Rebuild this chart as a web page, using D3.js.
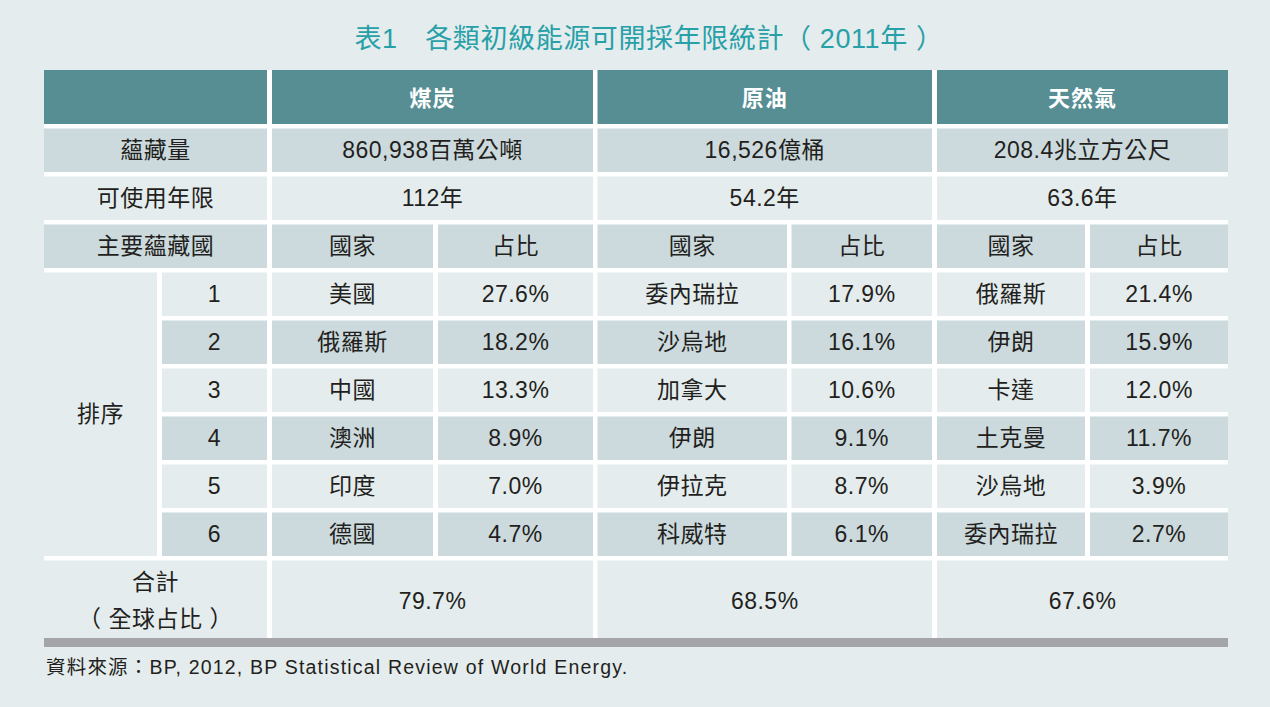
<!DOCTYPE html>
<html><head><meta charset="utf-8">
<script src="https://cdn.jsdelivr.net/npm/d3@7"></script>
<style>
html,body{margin:0;padding:0;background:#e4eced;}
svg{display:block;}
</style></head>
<body>
<div id="chart"></div>
<script>
// ---- data ----
const title = "表1\u3000各類初級能源可開採年限統計（ 2011年 ）";
const energyTypes = ["煤炭", "原油", "天然氣"];
const reserves = ["860,938百萬公噸", "16,526億桶", "208.4兆立方公尺"];
const years = ["112年", "54.2年", "63.6年"];
const rowLabels = ["蘊藏量", "可使用年限", "主要蘊藏國"];
const subHeaders = ["國家", "占比"];
const ranks = ["1", "2", "3", "4", "5", "6"];
const rankLabel = "排序";
const coalCountries = ["美國", "俄羅斯", "中國", "澳洲", "印度", "德國"];
const coalShares = ["27.6%", "18.2%", "13.3%", "8.9%", "7.0%", "4.7%"];
const oilCountries = ["委內瑞拉", "沙烏地", "加拿大", "伊朗", "伊拉克", "科威特"];
const oilShares = ["17.9%", "16.1%", "10.6%", "9.1%", "8.7%", "6.1%"];
const gasCountries = ["俄羅斯", "伊朗", "卡達", "土克曼", "沙烏地", "委內瑞拉"];
const gasShares = ["21.4%", "15.9%", "12.0%", "11.7%", "3.9%", "2.7%"];
const totalLabel = ["合計", "（ 全球占比 ）"];
const totals = ["79.7%", "68.5%", "67.6%"];
const source = "資料來源：BP, 2012, BP Statistical Review of World Energy.";

// ---- layout ----
const W = 1270, H = 707;
const C = {bg:"#e4eced", head:"#568e93", dark:"#ccdadd", light:"#e4eced", text:"#231f20", title:"#27a0a8", bar:"#a3a5a8"};
const FONT = "'Liberation Sans','Noto Sans CJK TC',Arial,sans-serif";

const svg = d3.select("#chart").append("svg").attr("width", W).attr("height", H);
svg.append("rect").attr("width", W).attr("height", H).attr("fill", C.bg);

// x edges
const labelX = [44, 267];
const rankLblX = [44, 157];
const rankNumX = [162, 267];
const blockX = [[272, 593], [597.5, 932], [937, 1228]];
const subX = [[[272, 433], [438, 593]], [[597.5, 787], [791.5, 932]], [[937, 1085], [1090, 1228]]];

// y positions
const headY = [70, 124];
const rowTop = 128.5, rowPitch = 48, rowH = 43.5;
const rowY = i => rowTop + rowPitch * i;
const totalY = [rowY(9), 638];

// white grid background
svg.append("rect").attr("x", 44).attr("y", 70).attr("width", 1228 - 44).attr("height", 638 - 70).attr("fill", "#ffffff");

function cell(x0, x1, y0, y1, fill) {
  svg.append("rect").attr("x", x0).attr("y", y0).attr("width", x1 - x0).attr("height", y1 - y0).attr("fill", fill);
}
function txt(s, cx, cy, opts = {}) {
  svg.append("text").attr("x", cx).attr("y", cy)
    .attr("text-anchor", opts.anchor || "middle")
    .attr("dominant-baseline", "central")
    .attr("font-family", FONT)
    .attr("font-size", opts.size || 23)
    .attr("font-weight", opts.weight || "normal")
    .attr("letter-spacing", opts.ls != null ? opts.ls : 0.5)
    .attr("fill", opts.fill || C.text)
    .text(s);
}
const mid = a => (a[0] + a[1]) / 2;

// title
txt(title, 649, 39, {size: 27, fill: C.title, ls: 0.6});

// header row
cell(labelX[0], labelX[1], headY[0], headY[1], C.head);
energyTypes.forEach((e, i) => {
  cell(blockX[i][0], blockX[i][1], headY[0], headY[1], C.head);
  txt(e, mid(blockX[i]), mid(headY) + 1, {size: 22, weight: "bold", fill: "#ffffff", ls: 1});
});

// reserves, years
[reserves, years].forEach((arr, r) => {
  const fill = r % 2 === 0 ? C.dark : C.light;
  const y0 = rowY(r), y1 = y0 + rowH;
  cell(labelX[0], labelX[1], y0, y1, fill);
  txt(rowLabels[r], mid(labelX), (y0 + y1) / 2);
  arr.forEach((v, i) => {
    cell(blockX[i][0], blockX[i][1], y0, y1, fill);
    txt(v, mid(blockX[i]), (y0 + y1) / 2);
  });
});

// sub header row
{
  const y0 = rowY(2), y1 = y0 + rowH;
  cell(labelX[0], labelX[1], y0, y1, C.dark);
  txt(rowLabels[2], mid(labelX), (y0 + y1) / 2);
  subX.forEach(bl => bl.forEach((sx, j) => {
    cell(sx[0], sx[1], y0, y1, C.dark);
    txt(subHeaders[j], mid(sx), (y0 + y1) / 2);
  }));
}

// rank rows
const countries = [coalCountries, oilCountries, gasCountries];
const shares = [coalShares, oilShares, gasShares];
cell(rankLblX[0], rankLblX[1], rowY(3), rowY(8) + rowH, C.light);
txt(rankLabel, mid(rankLblX), (rowY(3) + rowY(8) + rowH) / 2);
ranks.forEach((rk, k) => {
  const y0 = rowY(3 + k), y1 = y0 + rowH;
  const fill = k % 2 === 0 ? C.light : C.dark;
  cell(rankNumX[0], rankNumX[1], y0, y1, fill);
  txt(rk, mid(rankNumX), (y0 + y1) / 2);
  subX.forEach((bl, i) => {
    cell(bl[0][0], bl[0][1], y0, y1, fill);
    txt(countries[i][k], mid(bl[0]), (y0 + y1) / 2);
    cell(bl[1][0], bl[1][1], y0, y1, fill);
    txt(shares[i][k], mid(bl[1]), (y0 + y1) / 2);
  });
});

// totals
cell(labelX[0], labelX[1], totalY[0], totalY[1], C.light);
txt(totalLabel[0], mid(labelX), 582);
txt(totalLabel[1], mid(labelX), 619);
totals.forEach((v, i) => {
  cell(blockX[i][0], blockX[i][1], totalY[0], totalY[1], C.light);
  txt(v, mid(blockX[i]), mid(totalY) + 2);
});

// bottom bar
cell(44, 1228, 638, 647, C.bar);

// source
txt(source, 46, 667, {anchor: "start", size: 19.5, ls: 1.2});
</script>
</body></html>
